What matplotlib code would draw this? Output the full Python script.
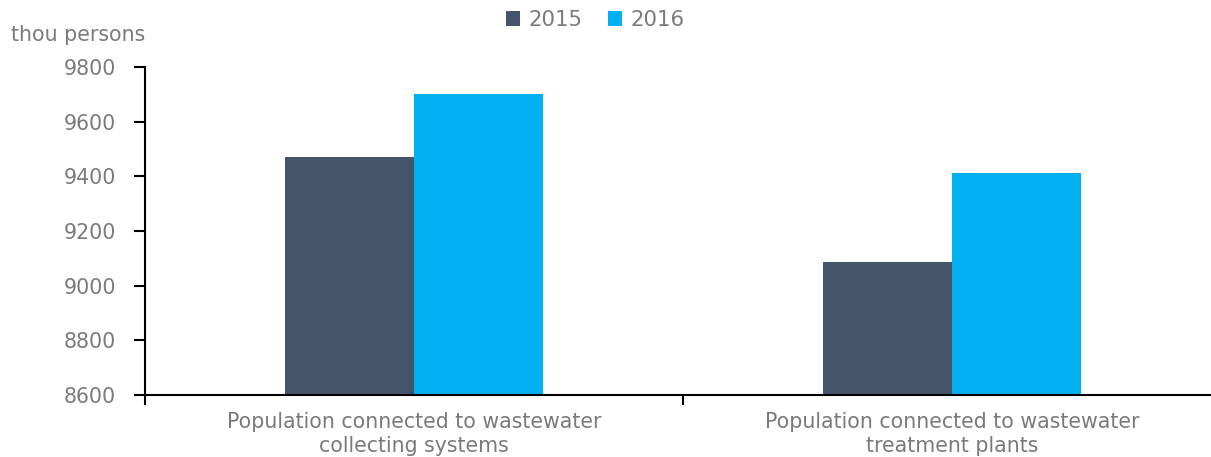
import matplotlib
matplotlib.use("Agg")
import matplotlib.pyplot as plt
import numpy as np

categories = ["Population connected to wastewater\ncollecting systems",
              "Population connected to wastewater\ntreatment plants"]
series_names = ["2015", "2016"]
values_2015 = [9471, 9087]
values_2016 = [9703, 9414]
colors = ["#44546A", "#00B0F0"]
yticks = [8600, 8800, 9000, 9200, 9400, 9600, 9800]

plt.rcParams['font.family'] = ['DejaVu Sans']
grey = "#7a7a7a"
fs = 14.8

W, H = 1211, 457
fig = plt.figure(figsize=(W / 100, H / 100), dpi=100)
left, right, bottom, top = 145, 1221, 395, 67
ax = fig.add_axes([left / W, (H - bottom) / H, (right - left) / W, (bottom - top) / H])

x = np.arange(len(categories))
bw = 0.24
ax.bar(x - bw / 2, values_2015, width=bw, color=colors[0], label=series_names[0])
ax.bar(x + bw / 2, values_2016, width=bw, color=colors[1], label=series_names[1])

ax.set_xlim(-0.5, len(categories) - 0.5)
ax.set_ylim(8600, 9800)
ax.set_yticks(yticks)
ax.set_yticklabels([str(v) for v in yticks], fontsize=fs, color=grey)
ax.tick_params(axis='y', length=8, width=1.5, color='black', pad=13, direction='out')

ax.set_xticks(x)
ax.set_xticklabels(categories, fontsize=fs, color=grey, linespacing=1.25)
ax.tick_params(axis='x', which='major', length=0, pad=12)
ax.set_xticks([-0.5, 0.5, 1.5], minor=True)
ax.tick_params(axis='x', which='minor', length=7, width=1.5, color='black', direction='out')

for s in ['top', 'right']:
    ax.spines[s].set_visible(False)
for s in ['left', 'bottom']:
    ax.spines[s].set_linewidth(1.5)
    ax.spines[s].set_color('black')

fig.text(11 / W, 1 - 35 / H, "thou persons", fontsize=fs, color=grey, va='center', ha='left')

leg = fig.legend(loc='center', bbox_to_anchor=(595 / W, 1 - 20 / H), ncol=2, frameon=False,
                 fontsize=fs + 0.5, handlelength=0.65, handleheight=0.65, handletextpad=0.4,
                 columnspacing=1.2)
for t in leg.get_texts():
    t.set_color(grey)

fig.savefig("out.png", dpi=100)
